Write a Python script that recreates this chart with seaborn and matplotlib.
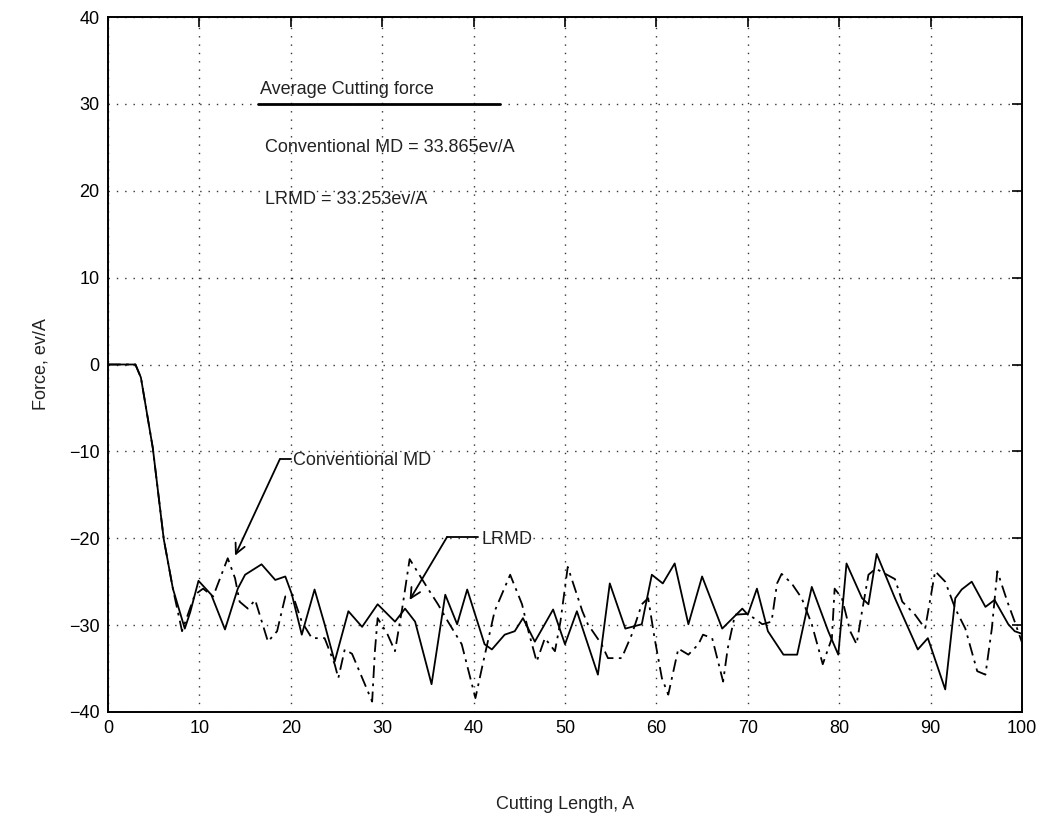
import numpy as np
import pandas as pd
import matplotlib
matplotlib.use("Agg")
import matplotlib.pyplot as plt
import seaborn as sns

# ---- data ----
lrmd_x = [0, 3.0, 3.6, 4.9, 6.1, 7.1, 8.4, 9.0, 9.9, 11.3, 12.8, 14.2, 15.0, 16.8, 18.3, 19.4,
          20.1, 21.2, 22.6, 23.7, 24.8, 26.3, 27.8, 29.5, 31.4, 32.5, 33.6, 35.4, 36.9, 38.2,
          39.3, 41.2, 42.0, 43.4, 44.5, 45.4, 46.7, 48.7, 50.0, 51.3, 53.6, 54.9, 56.6, 58.4,
          59.5, 60.7, 62.0, 63.5, 65.0, 67.2, 69.4, 70.0, 71.0, 72.2, 73.9, 75.4, 77.0, 78.8,
          79.9, 80.8, 82.5, 83.2, 84.1, 86.1, 88.6, 89.7, 91.6, 92.7, 93.4, 94.5, 96.0, 97.0,
          98.5, 99.2, 100]
lrmd_y = [0, 0, -1.5, -9.6, -20.1, -25.8, -30.4, -28.5, -24.9, -26.5, -30.5, -25.8, -24.2, -23.0,
          -24.8, -24.4, -26.4, -31.1, -25.9, -29.9, -34.2, -28.4, -30.2, -27.6, -29.6, -28.1,
          -29.6, -36.8, -26.5, -29.9, -25.9, -32.2, -32.8, -31.1, -30.7, -29.2, -31.9, -28.2,
          -32.2, -28.4, -35.7, -25.2, -30.4, -29.9, -24.2, -25.2, -22.9, -29.9, -24.4, -30.4,
          -28.1, -28.8, -25.8, -30.7, -33.4, -33.4, -25.6, -30.7, -33.4, -22.9, -26.9, -27.6,
          -21.8, -26.9, -32.8, -31.5, -37.4, -26.9, -25.9, -25.0, -27.9, -27.1, -29.9, -30.7,
          -31.0]

conv_x = [0, 3.0, 3.6, 4.9, 6.1, 7.1, 8.1, 9.5, 10.4, 11.5, 13.1, 13.9, 14.4, 15.3, 16.1, 17.5,
          18.5, 19.4, 20.2, 21.2, 22.3, 23.7, 24.8, 25.2, 25.9, 26.7, 28.1, 28.9, 29.2, 29.5,
          30.6, 31.4, 32.2, 33.0, 35.0, 36.1, 37.2, 38.7, 40.2, 41.0, 42.3, 44.0, 45.3, 46.0,
          46.9, 47.8, 48.9, 49.5, 50.3, 51.9, 52.5, 54.0, 54.7, 56.2, 57.3, 58.4, 59.1, 59.8,
          60.6, 61.3, 62.4, 63.5, 64.6, 65.1, 66.1, 67.3, 67.8, 68.6, 70.0, 71.6, 72.6, 73.2,
          73.7, 74.8, 75.9, 77.0, 78.2, 79.2, 79.5, 80.3, 81.2, 81.9, 82.5, 83.2, 84.0, 86.1,
          86.9, 88.3, 89.4, 90.5, 91.6, 92.7, 93.8, 95.1, 96.0, 96.7, 97.3, 98.4, 99.2, 100]
conv_y = [0, 0, -1.5, -9.6, -20.1, -25.8, -30.7, -26.5, -25.8, -26.7, -22.3, -24.6, -27.3, -28.1,
          -27.1, -31.9, -30.7, -26.7, -26.5, -29.6, -31.5, -31.5, -34.5, -36.1, -32.8, -33.3,
          -36.8, -38.8, -33.0, -29.2, -31.1, -33.0, -28.0, -22.4, -25.8, -27.6, -29.6, -32.2,
          -38.4, -34.5, -28.4, -24.2, -27.6, -30.7, -34.2, -31.5, -33.0, -29.6, -23.3, -28.4,
          -29.9, -32.2, -33.8, -33.8, -31.1, -27.6, -26.9, -31.5, -36.1, -38.0, -32.7, -33.4,
          -32.2, -31.1, -31.5, -36.5, -32.7, -28.8, -28.7, -29.9, -29.6, -25.2, -24.1, -25.2,
          -26.9, -29.9, -34.5, -31.5, -25.8, -26.9, -30.7, -32.2, -28.4, -24.2, -23.5, -24.7,
          -27.3, -28.8, -30.4, -23.8, -25.0, -28.1, -30.4, -35.3, -35.7, -30.4, -23.8, -27.3,
          -29.6, -32.0]

x_ticks = [0, 10, 20, 30, 40, 50, 60, 70, 80, 90, 100]
y_ticks = [-40, -30, -20, -10, 0, 10, 20, 30, 40]

heading = "Average Cutting force"
avg_lines = ["Conventional MD = 33.865ev/A", "LRMD = 33.253ev/A"]
series_names = ["Conventional MD", "LRMD"]

# ---- style ----
sns.set_theme(style="white")
plt.rcParams["font.family"] = ["Liberation Sans", "DejaVu Sans"]

fig = plt.figure(figsize=(10.56, 8.16), dpi=100)
ax = fig.add_axes([108 / 1056, 1 - 712 / 816, (1022 - 108) / 1056, (712 - 17) / 816])

df_conv = pd.DataFrame({"x": conv_x, "y": conv_y})
df_lrmd = pd.DataFrame({"x": lrmd_x, "y": lrmd_y})
sns.lineplot(data=df_conv, x="x", y="y", ax=ax, color="black", lw=1.3,
             linestyle=(0, (7, 3, 1.5, 3)), sort=False, estimator=None)
sns.lineplot(data=df_lrmd, x="x", y="y", ax=ax, color="black", lw=1.3,
             linestyle="-", sort=False, estimator=None)

ax.set_xlim(0, 100)
ax.set_ylim(-40, 40)
ax.set_xticks(x_ticks)
ax.set_yticks(y_ticks)
ax.grid(True, color="black", linestyle=(0, (1, 5)), linewidth=1.0, alpha=0.8)
for s in ax.spines.values():
    s.set_color("black")
    s.set_linewidth(1.4)
ax.tick_params(direction="in", length=7, width=1.2, colors="black",
               labelsize=13, top=True, right=True, pad=6)
ax.set_xlabel("Cutting Length, A", fontsize=13, labelpad=42, color="#222222")
ax.set_ylabel("Force, ev/A", fontsize=13, labelpad=14, color="#222222")

# ---- text annotations ----
ax.text(16.6, 31.6, heading, fontsize=13, va="center", ha="left", color="#222222")
ax.plot([16.4, 42.9], [30.0, 30.0], color="black", lw=2.0)
ax.text(17.2, 25.0, avg_lines[0], fontsize=13, va="center", ha="left", color="#222222")
ax.text(17.2, 19.0, avg_lines[1], fontsize=13, va="center", ha="left", color="#222222")

# Conventional MD pointer
ax.text(20.2, -11.0, series_names[0], fontsize=13, va="center", ha="left", color="#222222")
ax.plot([18.8, 20.0], [-10.9, -10.9], color="black", lw=1.3)
ax.annotate("", xy=(13.9, -22.0), xytext=(18.8, -10.9),
            arrowprops=dict(arrowstyle="->,head_length=0.6,head_width=0.3",
                            color="black", lw=1.3, shrinkA=0, shrinkB=0))
# LRMD pointer
ax.text(40.9, -20.1, series_names[1], fontsize=13, va="center", ha="left", color="#222222")
ax.plot([37.1, 40.5], [-19.85, -19.85], color="black", lw=1.3)
ax.annotate("", xy=(33.0, -27.1), xytext=(37.1, -19.85),
            arrowprops=dict(arrowstyle="->,head_length=0.6,head_width=0.3",
                            color="black", lw=1.3, shrinkA=0, shrinkB=0))

fig.savefig("out.png", dpi=100)
